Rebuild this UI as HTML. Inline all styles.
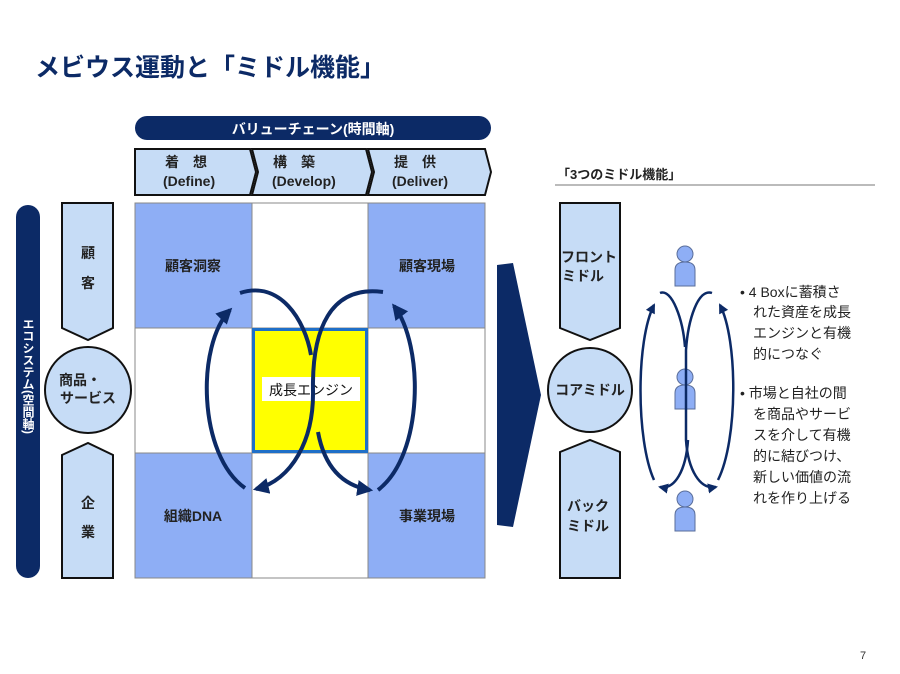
<!DOCTYPE html>
<html><head><meta charset="utf-8"><style>
html,body{margin:0;padding:0;background:#fff}
svg{display:block}
text{font-family:"Liberation Sans","Noto Sans CJK JP",sans-serif}
</style></head><body>
<svg width="900" height="674" viewBox="0 0 900 674" xmlns="http://www.w3.org/2000/svg">
<defs>
<marker id="ah" viewBox="0 0 10 10" refX="8" refY="5" markerWidth="4" markerHeight="4" orient="auto"><path d="M0,0 L10,5 L0,10 z" fill="#0c2a66"/></marker>
</defs>
<text x="35" y="76" font-size="25" font-weight="bold" fill="#0c2a66" font-family="Noto Sans CJK JP">メビウス運動と「ミドル機能」</text>

<rect x="135" y="116" width="356" height="24" rx="12" fill="#0c2a66"/>
<text x="313" y="134" font-size="14" font-weight="bold" fill="#fff" text-anchor="middle">バリューチェーン(時間軸)</text>

<g stroke="#111" stroke-width="2" fill="#c6dcf6">
<polygon points="135,149 250,149 256,172 250,195 135,195"/>
<polygon points="252,149 366,149 372,172 366,195 252,195 258,172"/>
<polygon points="368,149 485,149 491,172 485,195 368,195 374,172"/>
</g>
<g font-size="14" font-weight="bold" fill="#222">
<text x="165" y="167">着　想</text><text x="163" y="186">(Define)</text>
<text x="273" y="167">構　築</text><text x="272" y="186">(Develop)</text>
<text x="394" y="167">提　供</text><text x="392" y="186">(Deliver)</text>
</g>

<g stroke="#888" stroke-width="1">
<rect x="135" y="203" width="117" height="125" fill="#8eaef5"/>
<rect x="252" y="203" width="116" height="125" fill="#fff"/>
<rect x="368" y="203" width="117" height="125" fill="#8eaef5"/>
<rect x="135" y="328" width="117" height="125" fill="#fff"/>
<rect x="368" y="328" width="117" height="125" fill="#fff"/>
<rect x="135" y="453" width="117" height="125" fill="#8eaef5"/>
<rect x="252" y="453" width="116" height="125" fill="#fff"/>
<rect x="368" y="453" width="117" height="125" fill="#8eaef5"/>
</g>
<rect x="253.5" y="329.5" width="113" height="122" fill="#ffff00" stroke="#1f6fc8" stroke-width="3"/>
<rect x="262" y="377" width="98" height="24" fill="#fff"/>
<g font-size="14" font-weight="bold" fill="#222" text-anchor="middle">
<text x="193" y="271">顧客洞察</text>
<text x="427" y="271">顧客現場</text>
<text x="193" y="521">組織DNA</text>
<text x="427" y="521">事業現場</text>
<text x="311" y="395" font-weight="normal" fill="#111">成長エンジン</text>
</g>

<g fill="none" stroke="#0c2a66" stroke-width="4">
<path d="M240 293 C280 280 305 320 311 355"/>
<path d="M383 292 C330 285 312 330 313 390 C314 440 292 480 256 489" marker-end="url(#ah)"/>
<path d="M318 432 C325 470 345 486 370 490" marker-end="url(#ah)"/>
<path d="M245 488 C198 455 196 345 230 310" marker-end="url(#ah)"/>
<path d="M378 490 C424 455 424 345 394 306" marker-end="url(#ah)"/>
</g>

<rect x="16" y="205" width="24" height="373" rx="12" fill="#0c2a66"/>
<text x="28" y="318" font-size="12" font-weight="bold" fill="#fff" style="writing-mode:vertical-rl" font-family="Noto Sans CJK JP">エコシステム(空間軸)</text>

<g stroke="#111" stroke-width="2" fill="#c6dcf6">
<polygon points="62,203 113,203 113,328 88,340 62,328"/>
<circle cx="88" cy="390" r="43"/>
<polygon points="62,455 88,443 113,455 113,578 62,578"/>
</g>
<g font-size="14" font-weight="bold" fill="#222" text-anchor="middle">
<text x="88" y="258">顧</text><text x="88" y="288">客</text>
<text x="80" y="385">商品・</text><text x="88" y="403">サービス</text>
<text x="88" y="508">企</text><text x="88" y="537">業</text>
</g>

<polygon points="497,265 513,263 541,395 513,527 497,525" fill="#0c2a66"/>

<text x="557" y="179" font-size="13" font-weight="bold" fill="#222">「3つのミドル機能」</text>
<line x1="555" y1="185" x2="875" y2="185" stroke="#777" stroke-width="1"/>
<g stroke="#111" stroke-width="2" fill="#c6dcf6">
<polygon points="560,203 620,203 620,328 590,340 560,328"/>
<circle cx="590" cy="390" r="42"/>
<polygon points="560,452 590,440 620,452 620,578 560,578"/>
</g>
<g font-size="14" font-weight="bold" fill="#222">
<text x="561" y="262">フロント</text><text x="562" y="281">ミドル</text>
<text x="590" y="395" text-anchor="middle">コアミドル</text>
<text x="567" y="511">バック</text><text x="567" y="531">ミドル</text>
</g>

<g fill="#8eaef5" stroke="#5a6e9a" stroke-width="1">
<circle cx="685" cy="254" r="8"/><path d="M675 286 V270 Q675 262 685 262 Q695 262 695 270 V286 Z"/>
<circle cx="685" cy="377" r="8"/><path d="M675 409 V393 Q675 385 685 385 Q695 385 695 393 V409 Z"/>
<circle cx="685" cy="499" r="8"/><path d="M675 531 V515 Q675 507 685 507 Q695 507 695 515 V531 Z"/>
</g>

<g fill="none" stroke="#0c2a66" stroke-width="2.5">
<path d="M660 293 C672 288 683 320 685 347"/>
<path d="M712 293 C698 288 688 320 686 350 L686 440 C688 470 700 490 716 487" marker-end="url(#ah)"/>
<path d="M688 440 C686 470 675 490 660 487" marker-end="url(#ah)"/>
<path d="M654 480 C636 440 636 340 654 305" marker-end="url(#ah)"/>
<path d="M718 480 C738 440 738 340 720 305" marker-end="url(#ah)"/>
</g>

<g font-size="14" fill="#222">
<text x="740" y="297">• 4 Boxに蓄積さ</text>
<text x="753" y="317">れた資産を成長</text>
<text x="753" y="338">エンジンと有機</text>
<text x="753" y="359">的につなぐ</text>
<text x="740" y="398">• 市場と自社の間</text>
<text x="753" y="419">を商品やサービ</text>
<text x="753" y="440">スを介して有機</text>
<text x="753" y="461">的に結びつけ、</text>
<text x="753" y="482">新しい価値の流</text>
<text x="753" y="503">れを作り上げる</text>
</g>
<text x="860" y="659" font-size="11" fill="#333">7</text>
</svg>
</body></html>
